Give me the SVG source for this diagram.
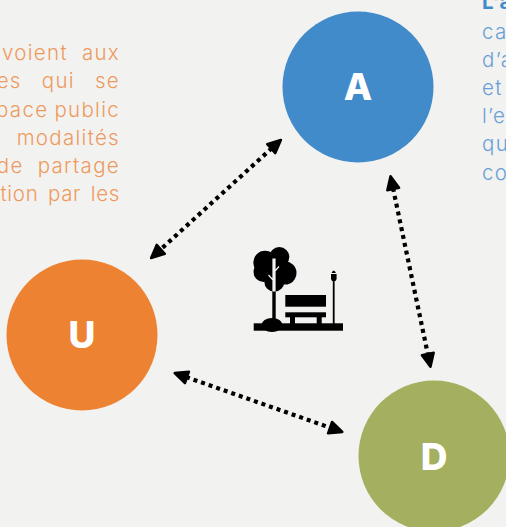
<svg xmlns="http://www.w3.org/2000/svg" width="506" height="527" viewBox="0 0 506 527">
<style>
.t{font-family:"Inter","Liberation Sans",sans-serif;font-size:20.5px;font-weight:300;letter-spacing:1.3px}
.o{fill:#EE9A5E;text-anchor:end}
.b{fill:#68A0D6}
.n{fill:#fff;font-family:"Inter","Liberation Sans",sans-serif;font-weight:800;font-size:37px;text-anchor:middle}
.c{fill:none;stroke:#000;stroke-width:4.2;stroke-dasharray:4 4;marker-start:url(#ah);marker-end:url(#ah)}
</style>
<defs>
<marker id="ah" viewBox="0 0 17 16" refX="3" refY="8" markerUnits="userSpaceOnUse" markerWidth="17" markerHeight="16" orient="auto-start-reverse">
<path d="M2 2 L15 8 L2 14 Z" fill="#000" stroke="#000" stroke-width="2.5" stroke-linejoin="round"/>
</marker>
</defs>
<rect width="506" height="527" fill="#F2F2F0"/>
<g id="text-left">
<text class="t o" x="120" y="60" word-spacing="7">voient aux</text>
<text class="t o" x="120" y="88" word-spacing="13">es qui se</text>
<text class="t o" x="120" y="117" word-spacing="-1">pace public</text>
<text class="t o" x="120" y="145">modalités</text>
<text class="t o" x="120" y="173" word-spacing="7">de partage</text>
<text class="t o" x="120" y="201" word-spacing="3" style="letter-spacing:.7px">tion par les</text>
</g>
<g id="text-right">
<text class="t" x="482" y="9" fill="#428BCA" style="font-weight:700">L’a</text>
<text class="t b" x="482" y="39">ca</text>
<text class="t b" x="482" y="67">d’a</text>
<text class="t b" x="482" y="95">et</text>
<text class="t b" x="482" y="123">l’es</text>
<text class="t b" x="482" y="151">qu</text>
<text class="t b" x="482" y="180">co</text>
</g>
<g id="connectors">
<path class="c" d="M272 148 L160 250"/>
<path class="c" d="M393 188 L428 355"/>
<path class="c" d="M186 377 L331 428"/>
</g>
<g id="node-A"><circle cx="358" cy="87" r="75.5" fill="#428BCA"/><text class="n" x="358" y="100">A</text></g>
<g id="node-U"><circle cx="82" cy="335" r="75.5" fill="#ED8332"/><text class="n" x="82" y="348">U</text></g>
<g id="node-D"><circle cx="434" cy="456" r="75.5" fill="#A4B05F"/><text class="n" x="434" y="470">D</text></g>
<g id="park-icon" fill="#000">
<rect x="253.7" y="323.3" width="89.3" height="7.4"/>
<circle cx="265" cy="262.5" r="11.7"/><circle cx="279.3" cy="257" r="10"/><circle cx="285" cy="273" r="11.5"/><circle cx="274.3" cy="281.7" r="10"/><circle cx="263.5" cy="272" r="10"/>
<rect x="272.3" y="285" width="3.4" height="40"/>
<path d="M273 259 H275 V291 H273 Z M275 271 L279 266.5 M273 280 L268.5 275" fill="#F2F2F0" stroke="#F2F2F0" stroke-width="1.2"/>
<ellipse cx="272" cy="325" rx="10.5" ry="7"/>
<rect x="285.3" y="295" width="40.7" height="11.7"/>
<rect x="285.3" y="312.3" width="40.7" height="5"/>
<rect x="290" y="317" width="5" height="7"/><rect x="316.7" y="317" width="5" height="7"/>
<rect x="332.8" y="280" width="1.8" height="44"/>
<path d="M331 274 H336.6 V279 L335.5 281 H332 L331 279 Z M331.5 273 Q333.7 268 336 273 Z"/>
</g>
</svg>
